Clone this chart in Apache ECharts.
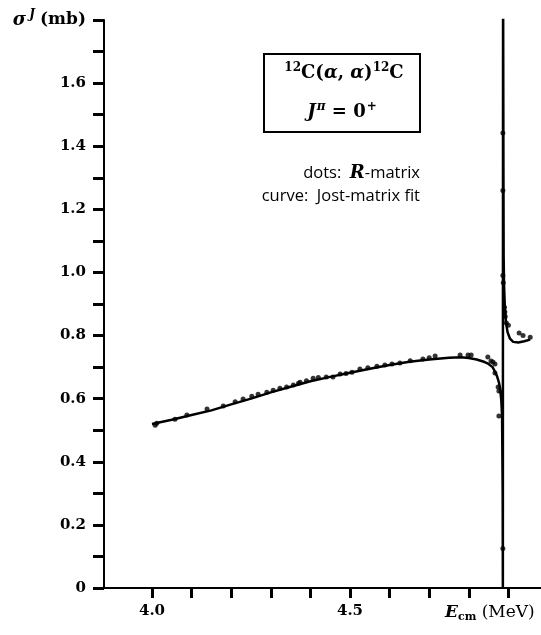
<!DOCTYPE html>
<html>
<head>
<meta charset="utf-8">
<script src="https://cdn.jsdelivr.net/npm/echarts@6/dist/echarts.min.js"></script>
<style>
html,body{margin:0;padding:0;background:#fff;}
#c{width:541px;height:635px;}
</style>
</head>
<body>
<div id="c"></div>
<script>
// R-matrix dots
const dotsX = [4.008,4.012,4.058,4.088,4.139,4.18,4.21,4.23,4.252,4.268,4.29,4.306,4.323,4.34,4.357,4.37,4.374,4.39,4.407,4.42,4.44,4.457,4.475,4.49,4.505,4.525,4.545,4.568,4.588,4.606,4.626,4.652,4.684,4.70,4.715,4.778,4.798,4.806,4.848,4.856,4.861,4.866,4.866,4.874,4.876,4.876,4.886,4.886,4.886,4.886,4.887,4.890,4.891,4.892,4.895,4.900,4.927,4.937,4.955];
const dotsY = [0.516,0.522,0.535,0.548,0.567,0.577,0.590,0.599,0.608,0.614,0.620,0.627,0.633,0.637,0.643,0.649,0.652,0.657,0.665,0.667,0.669,0.669,0.678,0.680,0.684,0.694,0.698,0.703,0.707,0.710,0.713,0.720,0.726,0.730,0.735,0.738,0.738,0.738,0.732,0.719,0.716,0.710,0.681,0.637,0.624,0.545,0.125,1.442,1.260,0.990,0.967,0.890,0.875,0.860,0.840,0.833,0.808,0.800,0.795];
// Jost-matrix fit curve
const curveX = [4.0,4.05,4.1,4.15,4.2,4.25,4.3,4.35,4.4,4.45,4.5,4.55,4.6,4.65,4.7,4.75,4.78,4.8,4.82,4.84,4.85,4.86,4.866,4.871,4.876,4.879,4.882,4.884,4.8855,4.886,4.8862,4.8865,4.887,4.8875,4.888,4.889,4.891,4.894,4.898,4.904,4.912,4.925,4.94,4.955];
const curveY = [0.520,0.533,0.548,0.563,0.582,0.600,0.620,0.638,0.655,0.669,0.682,0.695,0.707,0.717,0.724,0.730,0.731,0.729,0.724,0.716,0.710,0.700,0.686,0.672,0.652,0.632,0.595,0.545,0.300,0.000,1.000,2.000,2.000,1.300,1.050,0.960,0.890,0.840,0.810,0.790,0.780,0.778,0.782,0.787];
const xTicks = [4.0,4.1,4.2,4.3,4.4,4.5,4.6,4.7,4.8,4.9];
const xLabels = [4.0,4.5];

const dots = dotsX.map((x,i)=>[x,dotsY[i]]);
const curve = curveX.map((x,i)=>[x,curveY[i]]);
const serif = '"DejaVu Serif", serif';
const sans = '"Open Sans", sans-serif';
const chart = echarts.init(document.getElementById('c'));
chart.setOption({
  animation:false,
  backgroundColor:'#fff',
  grid:{left:104,right:0,top:20,bottom:47,containLabel:false},
  xAxis:{
    type:'value', min:3.8788, max:4.9823,
    splitLine:{show:false},
    axisLine:{onZero:false,lineStyle:{color:'#000',width:2}},
    axisTick:{customValues:xTicks,length:10,lineStyle:{color:'#000',width:3}},
    axisLabel:{customValues:xLabels,margin:16,color:'#000',fontFamily:serif,fontWeight:'bold',fontSize:15,
      formatter:v=>v.toFixed(1)}
  },
  yAxis:{
    type:'value', min:0, max:1.8, interval:0.1,
    splitLine:{show:false},
    axisLine:{show:true,onZero:false,lineStyle:{color:'#000',width:2}},
    axisTick:{show:true,length:11,lineStyle:{color:'#000',width:3}},
    axisLabel:{margin:18,color:'#000',fontFamily:serif,fontWeight:'bold',fontSize:15,
      formatter:function(v){
        const k=Math.round(v*10);
        if(k===0) return '0';
        if(k===18) return '{s|σ}{j|J} {n|(mb)}';
        if(k%2===1) return '';
        return (k/10).toFixed(1);
      },
      rich:{
        s:{fontFamily:serif,fontWeight:'bold',fontStyle:'italic',fontSize:18,color:'#000'},
        j:{fontFamily:serif,fontWeight:'bold',fontStyle:'italic',fontSize:12,color:'#000',padding:[0,0,10,3]},
        n:{fontFamily:serif,fontSize:17,color:'#000'}
      }
    }
  },
  series:[
    {type:'line',data:curve,showSymbol:false,clip:true,smooth:false,
     lineStyle:{color:'#000',width:2.5},z:2},
    {type:'scatter',data:dots,symbol:'circle',symbolSize:5,itemStyle:{color:'#000'},z:3}
  ],
  graphic:[
    {type:'rect',shape:{x:264,y:54,width:156,height:78},style:{fill:'none',stroke:'#000',lineWidth:2}},
    {type:'text',x:344,y:73,style:{
      text:'{sp|12}{t|C(}{a|α}{t|, }{a|α}{t|)}{sp|12}{t|C}',
      align:'center',verticalAlign:'middle',
      rich:{
        t:{fontFamily:serif,fontWeight:'bold',fontSize:18,fill:'#000'},
        a:{fontFamily:serif,fontWeight:'bold',fontStyle:'italic',fontSize:18,fill:'#000'},
        sp:{fontFamily:serif,fontWeight:'bold',fontSize:12,fill:'#000',padding:[0,0,10,0]}
      }}},
    {type:'text',x:342,y:112,style:{
      text:'{i|J}{sp|π}{t| = 0}{sp|+}',
      align:'center',verticalAlign:'middle',
      rich:{
        t:{fontFamily:serif,fontWeight:'bold',fontSize:18,fill:'#000'},
        i:{fontFamily:serif,fontWeight:'bold',fontStyle:'italic',fontSize:18,fill:'#000'},
        sp:{fontFamily:serif,fontWeight:'bold',fontStyle:'italic',fontSize:12,fill:'#000',padding:[0,0,10,1]}
      }}},
    {type:'text',x:420,y:173,style:{
      text:'{s|dots:  }{r|R}{s|-matrix}',
      align:'right',verticalAlign:'middle',
      rich:{
        s:{fontFamily:sans,fontSize:16.5,fill:'#000'},
        r:{fontFamily:serif,fontWeight:'bold',fontStyle:'italic',fontSize:18,fill:'#000'}
      }}},
    {type:'text',x:420,y:196,style:{
      text:'curve:  Jost-matrix fit',
      align:'right',verticalAlign:'middle',
      fontFamily:sans,fontSize:16.5,fill:'#000'}},
    {type:'text',x:445,y:613,style:{
      text:'{e|E}{c|cm}{n| (MeV)}',
      align:'left',verticalAlign:'middle',
      rich:{
        e:{fontFamily:serif,fontWeight:'bold',fontStyle:'italic',fontSize:17,fill:'#000'},
        c:{fontFamily:serif,fontWeight:'bold',fontSize:11,fill:'#000',padding:[8,0,0,0]},
        n:{fontFamily:serif,fontSize:17,fill:'#000'}
      }}}
  ]
});
</script>
</body>
</html>
